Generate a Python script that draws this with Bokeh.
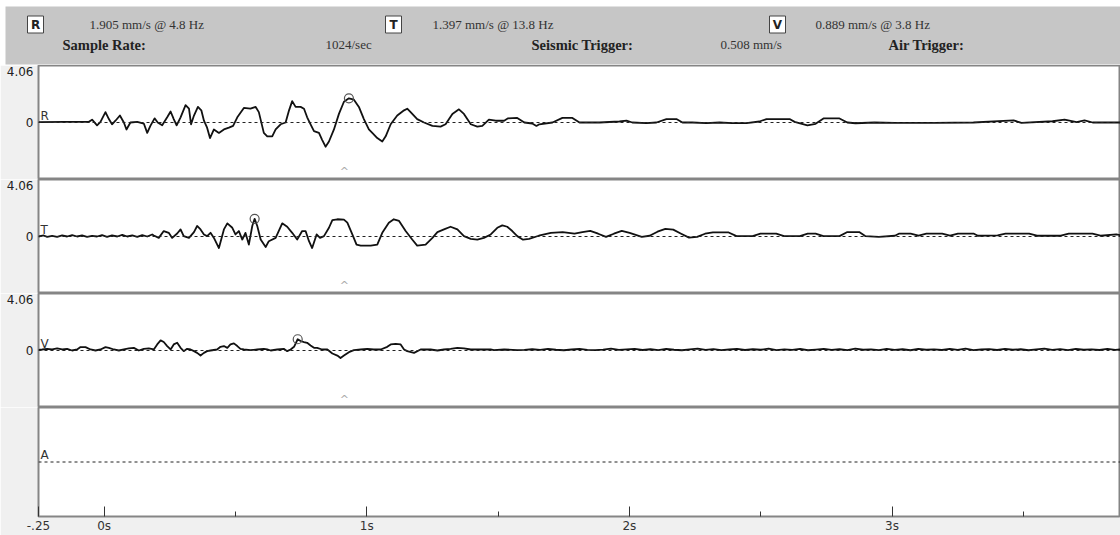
from bokeh.plotting import figure
from bokeh.models import Range1d, FixedTicker, Span
from bokeh.core.properties import value
from bokeh.embed import file_html
from bokeh.resources import INLINE

# ---------------- header data ----------------
channels = ["R", "T", "V"]
peak_text = ["1.905 mm/s @ 4.8 Hz", "1.397 mm/s @ 13.8 Hz", "0.889 mm/s @ 3.8 Hz"]
info_labels = ["Sample Rate:", "Seismic Trigger:", "Air Trigger:"]
info_values = ["1024/sec", "0.508 mm/s"]

# ---------------- trace data (time s, velocity mm/s) ----------------
r_time = [-0.25, -0.15, -0.058, -0.046, -0.027, -0.014, 0.005, 0.018, 0.030, 0.043, 0.060, 0.075, 0.085,
          0.100, 0.126, 0.151, 0.164, 0.176, 0.192, 0.204, 0.221, 0.240, 0.253, 0.265, 0.276, 0.291, 0.310,
          0.323, 0.331, 0.342, 0.357, 0.370, 0.380, 0.392, 0.403, 0.418, 0.437, 0.456, 0.475, 0.491, 0.507,
          0.532, 0.557, 0.577, 0.589, 0.608, 0.621, 0.640, 0.653, 0.672, 0.691, 0.704, 0.716, 0.729, 0.748,
          0.761, 0.773, 0.786, 0.799, 0.818, 0.830, 0.843, 0.856, 0.875, 0.894, 0.913, 0.932, 0.951, 0.970,
          0.989, 1.008, 1.021, 1.040, 1.059, 1.072, 1.091, 1.116, 1.142, 1.154, 1.167, 1.192, 1.218, 1.250,
          1.281, 1.300, 1.326, 1.351, 1.370, 1.396, 1.421, 1.440, 1.465, 1.491, 1.523, 1.538, 1.573, 1.600,
          1.630, 1.646, 1.657, 1.707, 1.745, 1.783, 1.810, 1.886, 1.962, 1.989, 2.011, 2.065, 2.103, 2.141,
          2.179, 2.202, 2.240, 2.293, 2.343, 2.392, 2.446, 2.495, 2.522, 2.571, 2.610, 2.629, 2.678, 2.709,
          2.739, 2.800, 2.830, 2.861, 2.933, 3.010, 3.162, 3.310, 3.463, 3.493, 3.611, 3.657, 3.703, 3.733,
          3.764, 3.870]
r_vel = [0.03, 0.05, 0.05, 0.22, -0.22, 0.05, 0.82, 0.27, -0.14, 0.14, 0.55, 0.0, -0.55,
         0.0, 0.05, -0.08, -0.82, -0.27, 0.33, 0.0, -0.22, 0.41, 0.87, 0.27, -0.22, 0.41, 1.37,
         1.09, -0.14, 0.55, 1.23, 0.96, 0.14, -0.41, -1.23, -0.55, -0.82, -0.55, -0.41, -0.27, 0.41,
         1.15, 1.09, 1.23, 0.82, -0.82, -1.09, -1.09, -0.55, -0.14, 0.0, 0.96, 1.69, 1.23, 1.23,
         1.09, 0.41, -0.14, -0.68, -0.82, -1.37, -1.91, -1.50, -0.55, 0.68, 1.64, 1.905, 1.80, 1.23,
         0.27, -0.55, -0.82, -1.23, -1.50, -1.09, -0.14, 0.55, 0.96, 1.09, 0.82, 0.27, 0.0, -0.27,
         -0.33, -0.14, 0.68, 1.04, 0.68, -0.14, -0.33, -0.27, 0.22, 0.14, 0.14, 0.33, 0.36, 0.0,
         -0.08, -0.27, -0.14, 0.0, 0.36, 0.36, 0.0, 0.0, 0.08, 0.14, 0.0, -0.05, 0.0, 0.27,
         0.27, 0.0, 0.0, -0.05, 0.0, -0.05, -0.05, 0.08, 0.27, 0.27, 0.27, 0.05, -0.23, -0.10,
         0.32, 0.32, 0.0, -0.06, 0.0, -0.03, -0.03, 0.0, 0.16, -0.03, 0.10, 0.23, 0.03, 0.16,
         0.0, 0.0]

t_time = [-0.25, -0.230, -0.217, -0.198, -0.179, -0.160, -0.141, -0.122, -0.103, -0.084, -0.065, -0.046,
          -0.027, -0.008, 0.011, 0.030, 0.050, 0.069, 0.088, 0.107, 0.126, 0.145, 0.164, 0.183, 0.189,
          0.208, 0.227, 0.246, 0.259, 0.278, 0.291, 0.303, 0.323, 0.342, 0.354, 0.367, 0.380, 0.392, 0.405,
          0.418, 0.437, 0.456, 0.469, 0.488, 0.500, 0.513, 0.526, 0.538, 0.551, 0.564, 0.573, 0.583, 0.596,
          0.615, 0.627, 0.653, 0.678, 0.697, 0.716, 0.735, 0.754, 0.767, 0.780, 0.792, 0.809, 0.822, 0.837,
          0.856, 0.869, 0.888, 0.913, 0.926, 0.945, 0.961, 0.977, 1.015, 1.040, 1.059, 1.084, 1.103, 1.123,
          1.148, 1.173, 1.192, 1.224, 1.250, 1.269, 1.294, 1.319, 1.345, 1.370, 1.396, 1.421, 1.446, 1.472,
          1.497, 1.516, 1.535, 1.554, 1.573, 1.595, 1.618, 1.655, 1.701, 1.746, 1.791, 1.821, 1.851, 1.881,
          1.911, 1.941, 1.971, 2.001, 2.047, 2.077, 2.107, 2.137, 2.167, 2.197, 2.227, 2.258, 2.288, 2.318,
          2.378, 2.408, 2.469, 2.499, 2.559, 2.589, 2.649, 2.679, 2.709, 2.739, 2.800, 2.830, 2.875, 2.898,
          2.950, 3.011, 3.026, 3.071, 3.101, 3.131, 3.191, 3.221, 3.251, 3.312, 3.327, 3.402, 3.432, 3.522,
          3.552, 3.643, 3.673, 3.763, 3.794, 3.854, 3.870]
t_vel = [0.0, 0.08, -0.03, 0.05, -0.03, 0.08, 0.0, 0.11, 0.0, 0.08, -0.03, 0.05,
         0.0, 0.11, -0.03, 0.08, 0.0, 0.13, 0.0, 0.08, -0.03, 0.11, 0.0, 0.16, 0.08,
         -0.11, 0.43, 0.29, -0.11, 0.24, 0.56, 0.03, -0.11, 0.35, 0.83, 0.56, 0.16, 0.03, 0.29,
         -0.11, -0.91, 0.56, 1.04, 0.69, 0.16, 0.43, -0.24, 0.29, -0.64, 0.83, 1.397, 0.83, -0.24,
         -0.83, -0.37, -0.11, 1.04, 0.77, 0.29, -0.24, 0.43, 0.43, -0.37, -0.91, 0.16, -0.11, 0.03,
         0.69, 1.30, 1.36, 1.33, 1.09, 0.16, -0.64, -0.72, -0.72, -0.64, 0.29, 1.09, 1.36, 1.23,
         0.43, -0.24, -0.72, -0.64, -0.11, 0.35, 0.56, 0.77, 0.56, 0.03, -0.19, -0.24, -0.11, 0.16,
         0.69, 0.88, 0.77, 0.43, 0.03, -0.25, -0.19, 0.06, 0.28, 0.35, 0.22, 0.35, 0.44, 0.22,
         -0.03, 0.22, 0.44, 0.28, -0.03, 0.06, 0.38, 0.60, 0.54, 0.22, -0.09, -0.03, 0.22, 0.32,
         0.32, 0.03, 0.03, 0.22, 0.22, 0.03, 0.03, 0.22, 0.22, 0.03, 0.03, 0.35, 0.35, 0.03,
         -0.03, 0.06, 0.22, 0.22, 0.06, 0.22, 0.22, 0.06, 0.22, 0.22, 0.06, 0.09, 0.22, 0.22,
         0.06, 0.06, 0.22, 0.22, 0.06, 0.16, 0.10]

v_time = [-0.25, -0.236, -0.217, -0.198, -0.179, -0.160, -0.141, -0.122, -0.103, -0.090, -0.071, -0.052,
          -0.033, -0.014, 0.005, 0.018, 0.037, 0.056, 0.075, 0.094, 0.113, 0.132, 0.151, 0.170, 0.189,
          0.202, 0.215, 0.227, 0.240, 0.253, 0.265, 0.278, 0.291, 0.303, 0.316, 0.329, 0.342, 0.354, 0.367,
          0.380, 0.392, 0.405, 0.430, 0.443, 0.456, 0.469, 0.481, 0.494, 0.507, 0.519, 0.532, 0.557, 0.583,
          0.608, 0.621, 0.634, 0.659, 0.684, 0.697, 0.710, 0.723, 0.737, 0.748, 0.761, 0.773, 0.786, 0.799,
          0.811, 0.830, 0.850, 0.869, 0.888, 0.900, 0.913, 0.932, 0.951, 0.977, 1.002, 1.027, 1.053, 1.078,
          1.091, 1.110, 1.129, 1.142, 1.154, 1.180, 1.205, 1.243, 1.269, 1.294, 1.319, 1.345, 1.370, 1.396,
          1.434, 1.472, 1.484, 1.523, 1.573, 1.60, 1.63, 1.66, 1.69, 1.72, 1.75, 1.78, 1.81, 1.84, 1.87,
          1.90, 1.93, 1.96, 1.99, 2.02, 2.05, 2.08, 2.11, 2.14, 2.17, 2.20, 2.23, 2.26, 2.29, 2.32, 2.35,
          2.38, 2.41, 2.44, 2.47, 2.50, 2.53, 2.56, 2.59, 2.62, 2.65, 2.68, 2.71, 2.74, 2.77, 2.80, 2.83,
          2.86, 2.89, 2.92, 2.95, 2.98, 3.01, 3.04, 3.07, 3.10, 3.13, 3.16, 3.19, 3.22, 3.25, 3.28, 3.31,
          3.34, 3.37, 3.40, 3.43, 3.46, 3.49, 3.52, 3.55, 3.58, 3.61, 3.64, 3.67, 3.70, 3.73, 3.76, 3.79,
          3.82, 3.85, 3.87]
v_vel = [0.05, 0.08, 0.13, 0.08, 0.16, 0.08, 0.13, 0.0, 0.08, 0.27, 0.27, 0.08,
         0.0, 0.08, 0.27, 0.21, 0.08, 0.0, 0.08, 0.16, 0.21, 0.0, 0.13, 0.16, 0.08,
         0.48, 0.80, 0.67, 0.35, 0.08, 0.48, 0.61, 0.21, -0.05, 0.13, 0.08, -0.05, -0.19, -0.40,
         -0.19, -0.05, 0.0, 0.08, 0.29, 0.35, 0.21, 0.48, 0.56, 0.35, 0.13, 0.08, 0.03, 0.08,
         0.13, 0.08, 0.0, 0.08, 0.13, -0.05, 0.08, 0.29, 0.889, 0.75, 0.67, 0.61, 0.40, 0.21,
         0.21, 0.08, 0.08, -0.24, -0.40, -0.59, -0.40, -0.13, 0.03, 0.08, 0.13, 0.08, 0.08, 0.29,
         0.48, 0.53, 0.48, 0.08, -0.05, -0.19, 0.08, 0.08, 0.0, 0.08, 0.13, 0.21, 0.16, 0.08,
         0.08, 0.08, 0.03, 0.08, 0.03, 0.05, 0.10, 0.05, 0.12, 0.06, 0.02, 0.08, 0.12, 0.05, 0.03,
         0.07, 0.14, 0.05, 0.09, 0.13, 0.04, 0.10, 0.03, 0.12, 0.06, 0.02, 0.09, 0.14, 0.05, 0.11, 0.03,
         0.08, 0.13, 0.04, 0.10, 0.06, 0.14, 0.03, 0.09, 0.05, 0.12, 0.02, 0.07, 0.13, 0.05, 0.10, 0.03,
         0.14, 0.06, 0.09, 0.03, 0.12, 0.05, 0.10, 0.02, 0.13, 0.06, 0.09, 0.04, 0.12, 0.05, 0.14, 0.03,
         0.08, 0.11, 0.04, 0.13, 0.06, 0.10, 0.02, 0.09, 0.14, 0.05, 0.11, 0.03, 0.12, 0.06, 0.09, 0.04,
         0.13, 0.05, 0.08]

a_time = []
a_vel = []

peak_time = [0.932, 0.573, 0.737]
peak_vel = [1.905, 1.397, 0.889]
trigger_time = 0.915
full_scale = 4.06

x_tick_vals = [-0.25, 0, 1, 2, 3]
x_tick_text = ["-.25", "0s", "1s", "2s", "3s"]
x_minor_vals = [0.5, 1.5, 2.5, 3.5]

# ---------------- styling ----------------
W = 1120
LEFT = 38
SANS = "DejaVu Sans"
SERIF = "Liberation Serif"
STRIP = "#f0f0f0"
EDGE = "#858585"


def make_header():
    h = figure(width=W, height=65, x_range=Range1d(0, W), y_range=Range1d(65, 0),
               x_axis_location=None, y_axis_location=None, min_border=0,
               output_backend="svg", toolbar_location=None)
    h.outline_line_color = None
    h.grid.visible = False
    h.background_fill_color = "white"
    h.border_fill_color = "white"
    h.quad(left=[5], right=[W], top=[6], bottom=[64], fill_color="#c6c6c6", line_color=None)
    box_x = [35, 393, 777]
    h.rect(x=box_x, y=[24] * 3, width=16, height=17, fill_color="white",
           line_color="#444444", line_width=1)
    h.text(x=box_x, y=[24] * 3, text=channels, text_font=value(SANS), text_font_style="bold",
           text_font_size="12px", text_align="center", text_baseline="middle", text_color="#222222")
    h.text(x=[89, 432, 815], y=[24] * 3, text=peak_text, text_font=value(SERIF),
           text_font_size="13px", text_align="left", text_baseline="middle", text_color="#333333")
    h.text(x=[62, 531, 888], y=[44] * 3, text=info_labels, text_font=value(SERIF),
           text_font_style="bold", text_font_size="14.5px", text_align="left",
           text_baseline="middle", text_color="#222222")
    h.text(x=[325, 720], y=[44] * 2, text=info_values, text_font=value(SERIF),
           text_font_size="13px", text_align="left", text_baseline="middle", text_color="#333333")
    return h


def make_panel(name, t, v, peak_idx=None, bottom=False):
    p = figure(width=W, height=128 if bottom else 114,
               x_range=Range1d(-0.25, 3.87), y_range=Range1d(-4.5, 4.5),
               x_axis_location="below" if bottom else None,
               y_axis_location="left",
               min_border=0, min_border_left=LEFT, min_border_bottom=16 if bottom else 0,
               output_backend="svg", toolbar_location=None)
    p.grid.visible = False
    p.background_fill_color = "white"
    p.border_fill_color = STRIP
    p.outline_line_color = EDGE
    p.outline_line_width = 2

    ya = p.yaxis[0]
    if bottom:
        ya.visible = False
    else:
        ya.ticker = FixedTicker(ticks=[0, full_scale])
        ya.axis_line_color = None
        ya.major_tick_line_color = None
        ya.minor_tick_line_color = None
        ya.major_tick_out = 0
        ya.major_tick_in = 0
        ya.minor_tick_out = 0
        ya.minor_tick_in = 0
        ya.major_label_text_font = SANS
        ya.major_label_text_font_size = "12px"
        ya.major_label_text_color = "#222222"
        ya.major_label_standoff = 5

    if bottom:
        xa = p.xaxis[0]
        xa.ticker = FixedTicker(ticks=x_tick_vals, minor_ticks=x_minor_vals)
        xa.major_label_overrides = dict(zip(x_tick_vals, x_tick_text))
        xa.axis_line_color = None
        xa.major_tick_in = 10
        xa.major_tick_out = 0
        xa.minor_tick_in = 5
        xa.minor_tick_out = 0
        xa.major_tick_line_color = "#333333"
        xa.minor_tick_line_color = "#333333"
        xa.major_tick_line_width = 1
        xa.major_label_text_font = SANS
        xa.major_label_text_font_size = "12px"
        xa.major_label_text_color = "#333333"
        xa.major_label_standoff = 2

    p.add_layout(Span(location=0, dimension="width", line_color="#222222",
                      line_dash="3 3", line_width=1))
    if t:
        p.line(t, v, line_color="#111111", line_width=1.8, line_join="round")
    p.text(x=[-0.25], y=[0], text=[name], text_font=value(SANS), text_font_size="12px",
           text_align="left", text_baseline="bottom", text_color="#333333", x_offset=2)
    if peak_idx is not None:
        p.scatter([peak_time[peak_idx]], [peak_vel[peak_idx]], marker="circle", size=9,
                  fill_color=None, line_color="#555555", line_width=1.2)
        p.text(x=[trigger_time], y=[-full_scale], text=["^"], text_font=value(SANS),
               text_font_size="11px", text_align="center", text_baseline="middle",
               text_color="#aaaaaa", y_offset=-2)
    return p


header = make_header()
pr = make_panel("R", r_time, r_vel, 0)
pt = make_panel("T", t_time, t_vel, 1)
pv = make_panel("V", v_time, v_vel, 2)
pa = make_panel("A", a_time, a_vel, None, bottom=True)

open("out.html", "w").write(file_html([header, pr, pt, pv, pa], INLINE))
